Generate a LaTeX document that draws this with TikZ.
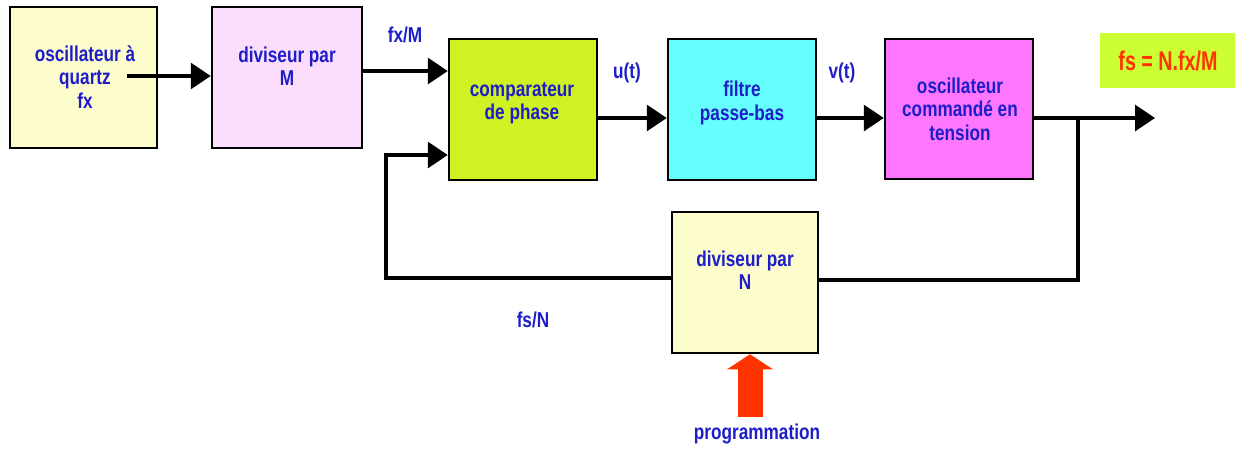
\documentclass[tikz,border=0pt]{standalone}
\usepackage{fontspec}
\usetikzlibrary{arrows.meta,calc}
\newfontfamily\lblfont[FakeStretch=0.8]{Liberation Sans}
\newfontfamily\fsfont[FakeStretch=0.73]{Liberation Sans}
\definecolor{txtblue}{RGB}{30,30,200}
\definecolor{cyellow}{RGB}{252,252,204}
\definecolor{cpink}{RGB}{252,222,252}
\definecolor{cgreen}{RGB}{208,242,34}
\definecolor{ccyan}{RGB}{102,255,255}
\definecolor{cmag}{RGB}{255,119,255}
\definecolor{cred}{RGB}{255,51,0}
\definecolor{fsgreen}{RGB}{204,255,51}
\tikzset{
  blk/.style={draw=black, line width=2.5pt, rectangle, inner sep=0pt},
  lbl/.style={font=\lblfont\bfseries\fontsize{21.5}{23.5}\selectfont, text=txtblue, align=center, inner sep=0pt},
  arr/.style={line width=3.2pt, -{Triangle[length=20pt,width=26pt]}},
  wire/.style={line width=3.2pt},
}
\begin{document}
\begin{tikzpicture}[x=1pt,y=-1pt]
\useasboundingbox (0,0) rectangle (1239,448);
% blocks
\node[blk, fill=cyellow, minimum width=147pt, minimum height=141pt] (osc) at (83.5,77.5) {};
\node[blk, fill=cpink, minimum width=150pt, minimum height=141pt] (divM) at (287,77.5) {};
\node[blk, fill=cgreen, minimum width=148pt, minimum height=141pt] (comp) at (523,109.5) {};
\node[blk, fill=ccyan, minimum width=148pt, minimum height=141pt] (filt) at (742,109.5) {};
\node[blk, fill=cmag, minimum width=148pt, minimum height=140pt] (vco) at (959,109) {};
\node[blk, fill=cyellow, minimum width=146pt, minimum height=141pt] (divN) at (745,282.5) {};
% block texts
\node[lbl] (tosc) at (85,77) {oscillateur à\\quartz\\fx};
\node[lbl] (tdivM) at (287,66) {diviseur par\\M};
\node[lbl] (tcomp) at (522,103) {comparateur\\de phase};
\node[lbl] (tfilt) at (742,103) {filtre\\passe-bas};
\node[lbl] (tvco) at (960,109) {oscillateur\\commandé en\\tension};
\node[lbl] (tdivN) at (745,270) {diviseur par\\N};
% result box
\node[fill=fsgreen, minimum width=135pt, minimum height=55pt, inner sep=0pt] (fsbox) at (1167.5,60.5) {};
\node[font=\fsfont\bfseries\fontsize{27}{30}\selectfont, text=cred, inner sep=0pt] (tfs) at (1168,61) {fs = N.fx/M};
% connectors
\coordinate (start) at (127,76);
\draw[arr] (start) -- (start -| divM.west);
\draw[arr] ([yshift=6.5pt]divM.east) -- ([yshift=6.5pt]divM.east -| comp.west);
\draw[arr] ([yshift=-8.5pt]comp.east) -- ([yshift=-8.5pt]comp.east -| filt.west);
\draw[arr] ([yshift=-8.5pt]filt.east) -- ([yshift=-8.5pt]filt.east -| vco.west);
\coordinate (out) at (1155,118);
\draw[arr] ([yshift=-9pt]vco.east) -- (out);
\coordinate (br) at (1078,118);
\draw[wire] (br) |- ([yshift=2.5pt]divN.east);
\coordinate (fb) at (386,155);
\draw[wire] ([yshift=4.5pt]divN.west) -| (fb);
\draw[arr] ([xshift=-1.6pt]fb) -- (fb -| comp.west);
% programming arrow
\coordinate (prog) at (750,417);
\draw[cred, line width=25pt, -{Triangle[length=15pt,width=45pt]}] (prog) -- (prog |- divN.south);
% labels
\node[lbl] (lfxm) at (405,35) {fx/M};
\node[lbl] (lut) at (627,73) {u(t)};
\node[lbl] (lvt) at (842,73) {v(t)};
\node[lbl] (lfsn) at (533,320) {fs/N};
\node[lbl] (lprog) at (757,434) {programmation};
\end{tikzpicture}
\end{document}
